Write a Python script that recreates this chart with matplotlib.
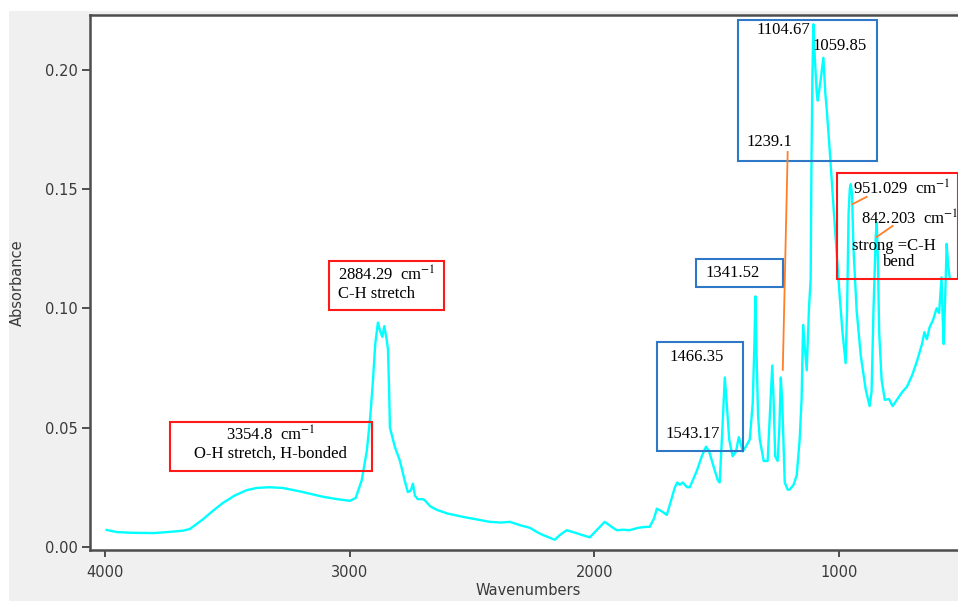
import numpy as np
import matplotlib
matplotlib.use("Agg")
import matplotlib.pyplot as plt
from matplotlib.patches import Rectangle

# FTIR spectrum (wavenumber cm-1, absorbance)
wavenumbers = [
    3993, 3950, 3886, 3800, 3734, 3680, 3653, 3600, 3560, 3518, 3470, 3420,
    3379, 3330, 3273, 3200, 3150, 3109, 3050, 2999, 2975, 2950, 2929, 2915,
    2905, 2895, 2884, 2875, 2866, 2858, 2850, 2843, 2838, 2835, 2815, 2794,
    2775, 2762, 2750, 2741, 2733, 2721, 2700, 2692, 2670, 2643, 2600, 2537,
    2480, 2427, 2380, 2345, 2300, 2263, 2230, 2210, 2185, 2161, 2140, 2112,
    2080, 2050, 2018, 1990, 1957, 1930, 1908, 1880, 1855, 1820, 1790, 1773,
    1755, 1744, 1725, 1703, 1690, 1670, 1660, 1650, 1638, 1620, 1609, 1580,
    1560, 1543, 1530, 1510, 1495, 1487, 1478, 1466, 1458, 1448, 1434, 1420,
    1409, 1400, 1393, 1380, 1364, 1352, 1345, 1341, 1336, 1330, 1323, 1307,
    1291, 1282, 1272, 1266, 1260, 1250, 1243, 1237, 1231, 1221, 1209, 1201,
    1185, 1172, 1160, 1152, 1146, 1140, 1131, 1122, 1115, 1112, 1108, 1104,
    1098, 1090, 1086, 1075, 1063, 1055, 1049, 1037, 1020, 1005, 997, 985,
    972, 966, 960, 955, 951, 946, 940, 927, 910, 890, 874, 866, 858, 849,
    845, 840, 835, 825, 812, 795, 780, 760, 740, 722, 700, 680, 660, 650,
    640, 629, 615, 600, 590, 580, 575, 571, 565, 559, 553, 547,
]
absorbance = [
    0.0071, 0.0062, 0.0059, 0.0058, 0.0063, 0.0068, 0.0075, 0.0115, 0.0150, 0.0184, 0.0215, 0.0238,
    0.0247, 0.0250, 0.0247, 0.0232, 0.0220, 0.0210, 0.0200, 0.0193, 0.0205, 0.0280, 0.0406, 0.0550,
    0.0687, 0.0850, 0.0940, 0.0905, 0.0880, 0.0925, 0.0880, 0.0830, 0.0650, 0.0500, 0.0420, 0.0360,
    0.0280, 0.0230, 0.0235, 0.0265, 0.0215, 0.0200, 0.0200, 0.0195, 0.0170, 0.0155, 0.0140, 0.0126,
    0.0115, 0.0105, 0.0102, 0.0105, 0.0090, 0.0080, 0.0060, 0.0050, 0.0040, 0.0030, 0.0050, 0.0070,
    0.0060, 0.0050, 0.0040, 0.0070, 0.0105, 0.0085, 0.0070, 0.0072, 0.0070, 0.0080, 0.0084, 0.0084,
    0.0120, 0.0160, 0.0150, 0.0134, 0.0180, 0.0250, 0.0270, 0.0260, 0.0270, 0.0250, 0.0250, 0.0320,
    0.0380, 0.0420, 0.0400, 0.0330, 0.0280, 0.0270, 0.0450, 0.0710, 0.0600, 0.0450, 0.0380, 0.0400,
    0.0460, 0.0430, 0.0400, 0.0420, 0.0450, 0.0600, 0.0850, 0.1050, 0.0800, 0.0550, 0.0450, 0.0360,
    0.0360, 0.0550, 0.0760, 0.0600, 0.0380, 0.0360, 0.0500, 0.0710, 0.0600, 0.0270, 0.0240, 0.0240,
    0.0260, 0.0300, 0.0450, 0.0620, 0.0930, 0.0850, 0.0740, 0.1000, 0.1120, 0.1580, 0.1970, 0.2190,
    0.2050, 0.1900, 0.1870, 0.1950, 0.2050, 0.1900, 0.1830, 0.1660, 0.1400, 0.1180, 0.1060, 0.0900,
    0.0770, 0.1000, 0.1400, 0.1500, 0.1520, 0.1480, 0.1250, 0.0990, 0.0800, 0.0660, 0.0590, 0.0650, 0.1000, 0.1300,
    0.1360, 0.1200, 0.0900, 0.0700, 0.0616, 0.0620, 0.0590, 0.0620, 0.0650, 0.0670, 0.0720, 0.0780, 0.0850, 0.0900,
    0.0870, 0.0920, 0.0950, 0.1000, 0.0980, 0.1130, 0.0950, 0.0850, 0.1050, 0.1270, 0.1180, 0.1130,
]

x_ticks = [4000, 3000, 2000, 1000]
y_ticks = [0.00, 0.05, 0.10, 0.15, 0.20]

# annotation boxes: (left wn, right wn, bottom, top, colour)
boxes = [
    (3734, 2909, 0.0318, 0.0524, "#ff1a1a"),
    (3085, 2615, 0.0993, 0.1198, "#ff1a1a"),
    (1744, 1393, 0.0402, 0.0859, "#2f78c8"),
    (1585, 1229, 0.1089, 0.1207, "#2f78c8"),
    (1413, 845, 0.1617, 0.2208, "#2f78c8"),
    (1009, 514, 0.1123, 0.1567, "#ff1a1a"),
]
# labels: (wn, absorbance, text, horizontal alignment)
labels = [
    (3322, 0.0468, "3354.8  cm$^{-1}$", "center"),
    (3322, 0.0390, "O-H stretch, H-bonded", "center"),
    (3048, 0.1140, "2884.29  cm$^{-1}$", "left"),
    (3048, 0.1060, "C-H stretch", "left"),
    (1581, 0.0796, "1466.35", "center"),
    (1597, 0.0473, "1543.17", "center"),
    (1544, 0.1148, "1341.52", "left"),
    (1225, 0.2168, "1104.67", "center"),
    (996, 0.2100, "1059.85", "center"),
    (1282, 0.1695, "1239.1", "center"),
    (943, 0.1500, "951.029  cm$^{-1}$", "left"),
    (911, 0.1375, "842.203  cm$^{-1}$", "left"),
    (947, 0.1262, "strong =C-H", "left"),
    (755, 0.1192, "bend", "center"),
]
# orange leader lines: ((wn0, wn1), (abs0, abs1))
leaders = [
    ((1209, 1229), (0.1655, 0.0742)),
    ((943, 886), (0.1437, 0.1467)),
    ((845, 780), (0.1299, 0.1345)),
]

plt.rcParams["mathtext.fontset"] = "stix"

fig = plt.figure(figsize=(9.58, 6.01), dpi=100)
fig.patch.set_facecolor("white")
fig.patches.append(Rectangle((9 / 958, 0), 1, 590 / 601, transform=fig.transFigure,
                             facecolor="#f0f0f0", edgecolor="none", zorder=-10))

ax = fig.add_axes([90 / 958, 51 / 601, 876 / 958, 535 / 601])
ax.set_facecolor("white")
ax.plot(wavenumbers, absorbance, color="#00ffff", linewidth=1.7)

ax.set_xlim(4061, 480)
ax.set_ylim(-0.0013, 0.2229)
ax.set_xticks(x_ticks)
ax.set_yticks(y_ticks)
ax.set_yticklabels([f"{v:.2f}" for v in y_ticks])

for side in ["left", "top", "bottom", "right"]:
    ax.spines[side].set_color("#4d4d4d")
    ax.spines[side].set_linewidth(1.8)
ax.tick_params(axis="both", colors="#4d4d4d", labelcolor="#3a3a3a",
               labelsize=10.5, width=1.4)
ax.tick_params(axis="y", length=6, pad=3)
ax.tick_params(axis="x", length=5, pad=6)

ax.set_xlabel("Wavenumbers", fontsize=10.5, color="#3a3a3a", labelpad=2)
ax.set_ylabel("Absorbance", fontsize=10.5, color="#3a3a3a", labelpad=14)

for x0, x1, y0, y1, col in boxes:
    ax.add_patch(Rectangle((x0, y0), x1 - x0, y1 - y0, fill=False,
                           edgecolor=col, linewidth=1.5, zorder=3))

for xs, ys in leaders:
    ax.plot(xs, ys, color="#ff7f27", linewidth=1.3, zorder=4)

for x, y, txt, ha in labels:
    ax.text(x, y, txt, ha=ha, va="center", fontsize=12,
            family="Liberation Serif", color="black", zorder=5)

fig.savefig("out.png", dpi=100)
